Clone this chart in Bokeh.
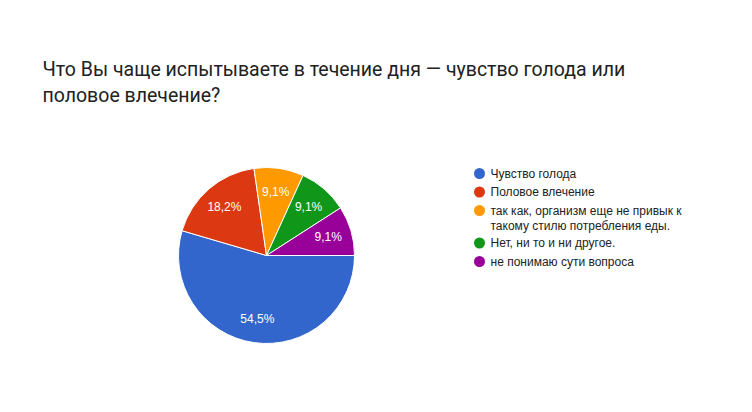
import math
import textwrap
from bokeh.plotting import figure
from bokeh.models import Range1d, ColumnDataSource
from bokeh.core.properties import value
from bokeh.embed import file_html
from bokeh.resources import INLINE

title = "Что Вы чаще испытываете в течение дня — чувство голода или половое влечение?"
categories = [
    "Чувство голода",
    "Половое влечение",
    "так как, организм еще не привык к такому стилю потребления еды.",
    "Нет, ни то и ни другое.",
    "не понимаю сути вопроса",
]
counts = [6, 2, 1, 1, 1]
colors = ["#3366cc", "#dc3912", "#ff9900", "#109618", "#990099"]

W, H = 736, 396
p = figure(width=W, height=H, output_backend="svg", toolbar_location=None,
           x_range=Range1d(0, W), y_range=Range1d(0, H), min_border=0)
p.axis.visible = False
p.grid.visible = False
p.outline_line_color = None
p.background_fill_color = "white"
p.border_fill_color = "white"

# screen-pixel helpers
def X(px):
    return px
def Y(py):
    return H - py

# ---- pie ----
cx, cy, r = X(266), Y(255), 88
total = sum(counts)
fracs = [c / total for c in counts]
cum = [0]
for f in fracs:
    cum.append(cum[-1] + f)
starts = [-2 * math.pi * cum[i] for i in range(len(counts))]
ends = [-2 * math.pi * cum[i + 1] for i in range(len(counts))]
src = ColumnDataSource(dict(start=starts, end=ends, color=colors))
p.wedge(x=cx, y=cy, radius=r, start_angle="start", end_angle="end",
        direction="clock", fill_color="color", line_color="white",
        line_width=1, source=src)

labels = [f"{f*100:.1f}%".replace(".", ",") for f in fracs]
mids = [-(math.pi * (cum[i] + cum[i + 1])) for i in range(len(counts))]
lr = 0.73 * r
lx = [cx + lr * math.cos(a) for a in mids]
ly = [cy + lr * math.sin(a) for a in mids]
p.text(x=lx, y=ly, text=labels, text_color="white",
       text_font=value("Liberation Sans"), text_font_size="12px",
       text_align="center", text_baseline="middle")

# ---- title ----
tlines = textwrap.wrap(title, width=62)
for i, line in enumerate(tlines):
    p.text(x=[X(42)], y=[Y(68.5 + 26 * i)], text=[line], text_color="#212121",
           text_font=value("Roboto"), text_font_size="19.5px",
           text_align="left", text_baseline="alphabetic")

# ---- legend ----
dot_x, txt_x = X(479), X(490)
ypos = 173
dx, dy, dc = [], [], []
tx, ty, tt = [], [], []
for i, cat in enumerate(categories):
    lines = textwrap.wrap(cat, width=33)
    dx.append(dot_x); dy.append(Y(ypos)); dc.append(colors[i])
    for j, ln in enumerate(lines):
        tx.append(txt_x); ty.append(Y(ypos + 15 * j)); tt.append(ln)
    ypos += 18.5 + 14 * (len(lines) - 1)
p.scatter(x=dx, y=dy, size=11, color=dc, line_color=None)
p.text(x=tx, y=ty, text=tt, text_color="#222222",
       text_font=value("Liberation Sans"), text_font_size="12px",
       text_align="left", text_baseline="middle")

open("out.html", "w").write(file_html(p, INLINE))
